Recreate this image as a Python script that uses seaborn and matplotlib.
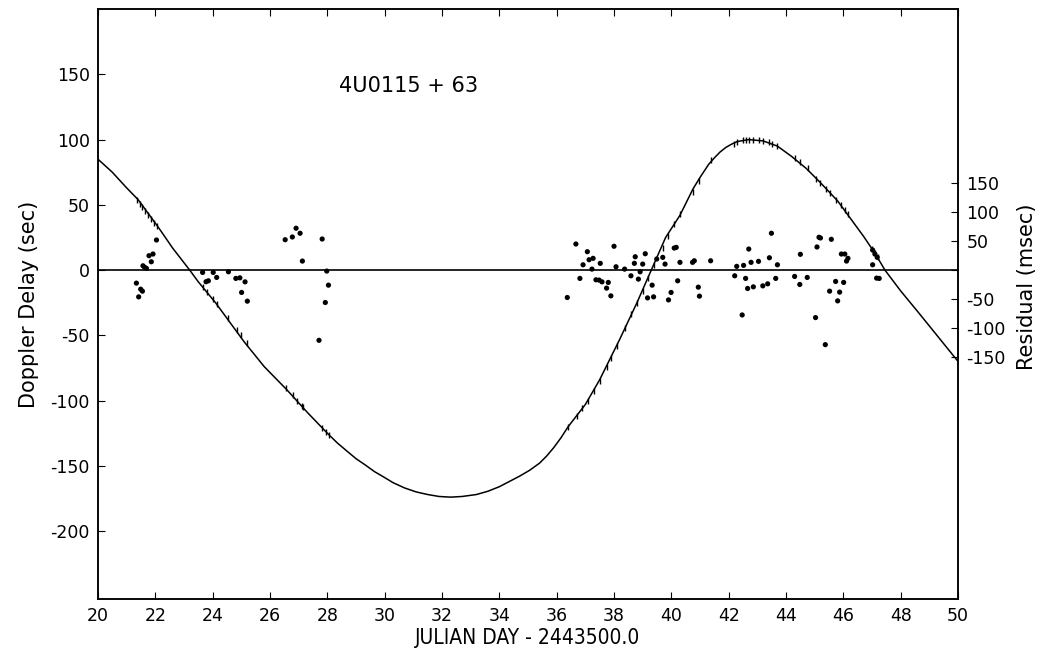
import matplotlib
matplotlib.use("Agg")
import matplotlib.pyplot as plt
import seaborn as sns
import numpy as np
import pandas as pd

# orbit curve (day, delay in sec)
curve_day = [20.0, 20.25, 20.5, 20.75, 21.0, 21.2, 21.4, 22.1, 22.6, 23.2, 23.5, 24.1, 24.6,
             25.1, 25.8, 26.6, 27.3, 28.0, 28.35, 28.7, 29.0, 29.3, 29.65, 30.0, 30.3,
             30.7, 31.1, 31.5, 31.9, 32.3, 32.7, 33.2, 33.6, 34.0, 34.35, 34.7, 35.05,
             35.4, 35.65, 35.9, 36.15, 36.4, 37.0, 37.5, 38.2, 38.8, 39.3, 39.8, 40.3,
             40.75, 41.0, 41.3, 41.5, 41.7, 41.9, 42.1, 42.3, 42.7, 43.2, 43.7, 44.2,
             44.7, 45.2, 45.8, 46.3, 46.7, 47.1, 47.45, 48.0, 48.6, 49.3, 50.0]
curve_delay = [85, 80, 75, 69, 63, 58.5, 54, 33, 17, 0, -9, -25, -40,
               -55, -74, -92, -109, -125, -132.5, -139, -144.5, -149, -154.5, -159, -163,
               -167, -170, -172, -173.5, -174, -173.5, -172, -169.5, -166, -162, -158, -153.5,
               -148, -142.5, -136, -128.5, -120, -103, -84, -53, -25, 0, 25, 42,
               62, 71, 81, 86, 90.5, 94, 96.5, 98.5, 100, 99, 95, 87,
               78, 67, 53, 38, 26, 13, 0, -16, -32, -51, -70]

# observed delays sitting on the curve (error-bar ticks)
obs_day = [21.35, 21.45, 21.55, 21.65, 21.75, 21.85, 21.95, 22.05,
           23.65, 23.8, 24.0, 24.15, 24.55, 24.85, 25.0, 25.2,
           26.55, 26.8, 26.95, 27.1, 27.15, 27.8, 27.95, 28.05,
           36.4, 36.7, 36.9, 37.1, 37.3, 37.5, 37.75, 37.9, 38.1, 38.4, 38.6, 38.8,
           39.0, 39.2, 39.4, 39.7, 39.9, 40.1, 40.3, 40.75, 40.95, 41.4,
           42.2, 42.3, 42.5, 42.6, 42.7, 42.85, 43.05, 43.2, 43.4, 43.5, 43.7,
           44.3, 44.5, 44.75, 45.05, 45.2, 45.4, 45.55, 45.75, 45.9, 46.05, 46.15,
           47.0, 47.1, 47.2]
obs_delay = [54, 51, 48, 45, 42, 39, 36, 34,
             -13, -17, -22, -26, -37, -46, -50, -56,
             -90, -96, -100, -104, -105, -121, -124, -126,
             -120, -112, -106, -100, -93, -85, -74, -67, -58, -44, -34, -25,
             -16, -6, 4, 17, 26, 35, 43, 60, 68, 84,
             97, 98, 99.5, 100, 100, 100, 100, 99, 98, 97, 95,
             86, 83, 78, 70, 66.5, 62, 59, 54, 50, 46, 43,
             16, 13, 10]

# timing residuals (day, msec)
res_day = [21.34, 21.42, 21.49, 21.55, 21.57, 21.63, 21.69, 21.78, 21.86, 21.92, 22.04,
           23.65, 23.77, 23.85, 24.02, 24.14, 24.55, 24.81, 24.95, 25.13, 25.01, 25.21,
           26.53, 26.78, 26.91, 27.05, 27.13, 27.82, 27.98, 28.04, 27.93, 27.71,
           36.37, 36.67, 36.81, 36.92, 37.07, 37.13, 37.23, 37.27, 37.37, 37.48, 37.52,
           37.58, 37.74, 37.80, 37.89, 38.0, 38.07, 38.37, 38.59, 38.71, 38.74, 38.85,
           38.91, 39.0, 39.09, 39.17, 39.33, 39.38, 39.49, 39.70, 39.78, 39.90, 39.99,
           40.10, 40.17, 40.22, 40.30, 40.74, 40.80, 40.94, 40.98, 41.37,
           42.21, 42.28, 42.47, 42.52, 42.59, 42.66, 42.70, 42.78, 42.86, 43.04, 43.19,
           43.36, 43.42, 43.49, 43.64, 43.70, 44.30, 44.48, 44.50, 44.74, 45.03, 45.08,
           45.15, 45.20, 45.37, 45.52, 45.58, 45.73, 45.80, 45.87, 45.93, 46.01, 46.05,
           46.11, 46.16, 47.02, 47.10, 47.18, 47.02, 47.16, 47.25]
res_msec = [-22.4, -46, -32.8, -36.2, 7.4, 4.7, 2.9, 24.7, 14.3, 27.6, 51.7,
            -4, -20, -18.4, -4, -12.6, -2.9, -14.3, -13.3, -20.2, -38.4, -53.4,
            52.2, 56.9, 71.9, 63.3, 15.5, 53.4, -1.7, -25.9, -55.7, -120.7,
            -47.1, 44.8, -14.3, 9.1, 31.6, 17.8, 1.7, 20.2, -16.7, -17.2, 11.6,
            -20.2, -31.0, -21.2, -44.3, 40.9, 5.7, 1.7, -9.8, 11.6, 22.9, -15.5,
            -2.9, 10.3, 28.1, -47.8, -25.9, -46.0, 19.0, 21.9, 10.3, -51.2, -38.4,
            37.9, 39.0, -18.4, 13.3, 13.3, 16.0, -29.3, -44.8, 16.0,
            -9.8, 6.4, -77.1, 8.1, -14.3, -31.6, 36.2, 13.3, -28.8, 15.0, -27.1,
            -23.6, 21.2, 63.3, -14.3, 9.1, -10.9, -24.7, 27.1, -12.6, -81.6, 39.7,
            56.4, 55.2, -128.1, -36.2, 52.9, -19.5, -52.9, -37.9, 27.6, -21.2, 27.6,
            15.5, 20.2, 34.5, 27.6, 21.9, 9.1, -13.8, -14.3]

x_ticks = list(range(20, 51, 2))
y_ticks = [-200, -150, -100, -50, 0, 50, 100, 150]
res_ticks = [-150, -100, -50, 0, 50, 100, 150]
res_labels = ["-150", "-100", "-50", "", "50", "100", "150"]

sns.set_style("ticks")
plt.rcParams['font.family'] = ['DejaVu Sans']
plt.rcParams['axes.unicode_minus'] = False
plt.rcParams['text.color'] = 'black'
plt.rcParams['axes.labelcolor'] = 'black'
plt.rcParams['xtick.color'] = 'black'
plt.rcParams['ytick.color'] = 'black'

fig = plt.figure(figsize=(10.4, 6.51), dpi=100)
ax = fig.add_axes([0.0942, 0.080, 0.827, 0.906])

curve = pd.DataFrame({"day": curve_day, "delay": curve_delay})
sns.lineplot(data=curve, x="day", y="delay", ax=ax, color="black", linewidth=1.1,
             sort=False, estimator=None)
ax.axhline(0, color="black", linewidth=1.2)
sns.scatterplot(x=obs_day, y=obs_delay, ax=ax, marker="|", s=25, color="black",
                linewidth=1.0)

ax.set_xlim(20, 50)
ax.set_ylim(-252, 200)
ax.set_xticks(x_ticks)
ax.set_yticks(y_ticks)
ax.set_xlabel("JULIAN DAY - 2443500.0", fontsize=15, fontstretch="condensed", labelpad=2)
ax.set_ylabel("Doppler Delay (sec)", fontsize=15, labelpad=8)
ax.tick_params(axis="x", direction="in", length=5, top=True, labelsize=12.5, pad=6)
ax.tick_params(axis="y", direction="in", length=5, labelsize=12.5, pad=6)
ax.text(28.4, 141, "4U0115 + 63", fontsize=15, va="center", ha="left")

# residuals on a second scale
ax2 = ax.twinx()
sns.scatterplot(x=res_day, y=res_msec, ax=ax2, s=14, color="black", edgecolor="none")
ax2.set_ylim(-252 / 0.446, 200 / 0.446)
ax2.set_yticks(res_ticks)
ax2.set_yticklabels(res_labels)
ax2.set_ylabel("Residual (msec)", fontsize=15)
ax2.yaxis.set_label_coords(1.069, 0.53)
ax2.tick_params(axis="y", direction="in", length=5, labelsize=12.5, pad=6)

for a in (ax, ax2):
    for sp in a.spines.values():
        sp.set_linewidth(1.1)
        sp.set_color("black")

fig.savefig("out.png", dpi=100)
